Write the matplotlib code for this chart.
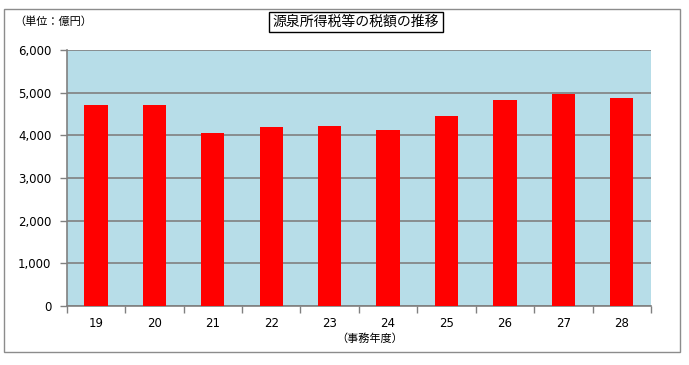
import matplotlib
matplotlib.use("Agg")
import matplotlib.pyplot as plt
from matplotlib.patches import Rectangle

plt.rcParams['font.family'] = ['Noto Sans CJK JP', 'DejaVu Sans']

years = ["19", "20", "21", "22", "23", "24", "25", "26", "27", "28"]
values = [4710, 4710, 4050, 4190, 4220, 4120, 4450, 4830, 4970, 4870]
yticks = [0, 1000, 2000, 3000, 4000, 5000, 6000]
title = "源泉所得税等の税額の推移"
unit_label = "（単位：億円）"
x_label = "（事務年度）"

W, H = 689, 365
fig = plt.figure(figsize=(W / 100, H / 100), dpi=100)
fig.patch.set_facecolor("white")

# outer border
fig.patches.append(Rectangle((3.5 / W, 1 - 352 / H), (680 - 3.5) / W, (352 - 9) / H,
                             transform=fig.transFigure, fill=False,
                             edgecolor="#8c8c8c", linewidth=1.0))

ax = fig.add_axes([66.7 / W, 1 - 306 / H, (651 - 66.7) / W, (306 - 50) / H])
ax.set_facecolor("#B7DDE8")
x = list(range(len(years)))
ax.bar(x, values, width=0.4, color="#FF0000", zorder=3)
ax.set_xlim(-0.5, len(years) - 0.5)
ax.set_ylim(0, 6000)
ax.set_yticks(yticks)
ax.set_yticklabels([f"{v:,}" for v in yticks], fontsize=8.5, family="DejaVu Sans")
ax.yaxis.grid(True, color="#808080", linewidth=1.2, zorder=1)
ax.set_axisbelow(True)
ax.set_xticks(x)
ax.set_xticklabels(years, fontsize=8.5, family="DejaVu Sans")
ax.tick_params(axis="x", which="major", length=0, pad=8)
ax.set_xticks([i - 0.5 for i in range(len(years) + 1)], minor=True)
ax.tick_params(axis="x", which="minor", length=5, color="#808080", width=1)
ax.tick_params(axis="y", length=5, color="#808080", width=1, pad=6)
for s in ["top", "right"]:
    ax.spines[s].set_visible(False)
for s in ["left", "bottom"]:
    ax.spines[s].set_color("#808080")
    ax.spines[s].set_linewidth(1.2)

fig.text(356 / W, 1 - 22 / H, title, ha="center", va="center", fontsize=10,
         bbox=dict(boxstyle="square,pad=0.25", facecolor="white", edgecolor="black", linewidth=1))
fig.text(14 / W, 1 - 22 / H, unit_label, ha="left", va="center", fontsize=8)
fig.text(370 / W, 1 - 339 / H, x_label, ha="center", va="center", fontsize=8)

fig.savefig("out.png", dpi=100)
